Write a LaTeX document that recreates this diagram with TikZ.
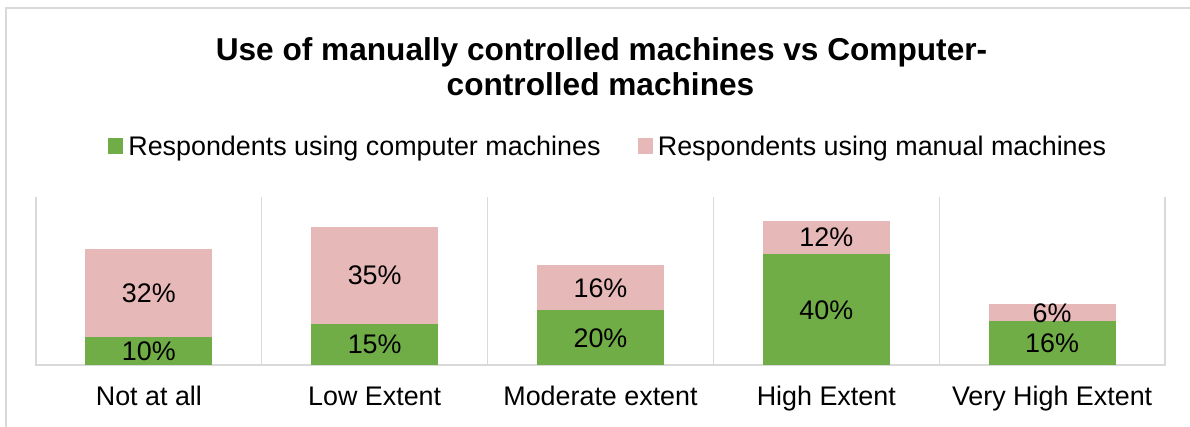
\documentclass[tikz,border=0pt]{standalone}
\usepackage{fontspec}
\setmainfont{Liberation Sans}
\usetikzlibrary{positioning}
\definecolor{compgreen}{HTML}{70AD47}
\definecolor{manpink}{HTML}{E6B8B7}
\definecolor{gridgray}{HTML}{D9D9D9}

\begin{document}
\begin{tikzpicture}[x=0.02cm,y=-0.02cm,every node/.style={font=\fontsize{15.3}{18}\selectfont,inner sep=0pt},
  grid/.style={draw=gridgray,line width=.6pt},
  lbl/.style={anchor=base}]
\useasboundingbox (0,0) rectangle (1190,426);
% frame
\draw[draw=gridgray,line width=.9pt] (6,440)--(6,8)--(1200,8);
% title and legend
\node[anchor=base,font=\fontsize{18}{19.4}\selectfont\bfseries] (title) at (601.5,60.7) {Use of manually controlled machines vs Computer-};
\node[anchor=base,font=\fontsize{18}{19.4}\selectfont\bfseries] (title2) at (600.5,95) {controlled machines};
\fill[compgreen] (108,138) rectangle (123,153.5);
\node[anchor=base west] (legc) at (128,155) {Respondents using computer machines};
\fill[manpink] (638,138) rectangle (653,153.5);
\node[anchor=base west] (legm) at (657.5,155) {Respondents using manual machines};
% grid
\draw[grid] (36,197)--(36,365)--(1165,365)--(1165,197);
\draw[grid] (261.8,197)--(261.8,365);
\draw[grid] (487.6,197)--(487.6,365);
\draw[grid] (713.4,197)--(713.4,365);
\draw[grid] (939.2,197)--(939.2,365);
% bars: green from 365 up, 2.77px per percent
\fill[compgreen] (85.4,365) rectangle (212.4,337.3);
\fill[manpink] (85.4,337.3) rectangle (212.4,248.7);
\fill[compgreen] (311.2,365) rectangle (438.2,323.5);
\fill[manpink] (311.2,323.5) rectangle (438.2,226.6);
\fill[compgreen] (537,365) rectangle (664,309.6);
\fill[manpink] (537,309.6) rectangle (664,265.3);
\fill[compgreen] (762.8,365) rectangle (889.8,254.2);
\fill[manpink] (762.8,254.2) rectangle (889.8,220.9);
\fill[compgreen] (988.6,365) rectangle (1115.6,320.7);
\fill[manpink] (988.6,320.7) rectangle (1115.6,304.1);
% data labels
\node[lbl] (c1) at (148.9,360.8) {10\%};
\node[lbl] (m1) at (148.9,302.8) {32\%};
\node[lbl] (c2) at (374.7,353.9) {15\%};
\node[lbl] (m2) at (374.7,284.7) {35\%};
\node[lbl] (c3) at (600.5,347) {20\%};
\node[lbl] (m3) at (600.5,297.1) {16\%};
\node[lbl] (c4) at (826.3,319.2) {40\%};
\node[lbl] (m4) at (826.3,246.2) {12\%};
\node[lbl] (c5) at (1052.1,352.5) {16\%};
\node[lbl] (m5) at (1052.1,322) {6\%};
% category labels
\node[lbl] (k1) at (148.9,405.7) {Not at all};
\node[lbl] (k2) at (374.7,405.7) {Low Extent};
\node[lbl] (k3) at (600.5,405.7) {Moderate extent};
\node[lbl] (k4) at (826.3,405.7) {High Extent};
\node[lbl] (k5) at (1052.1,405.7) {Very High Extent};
\end{tikzpicture}
\end{document}
